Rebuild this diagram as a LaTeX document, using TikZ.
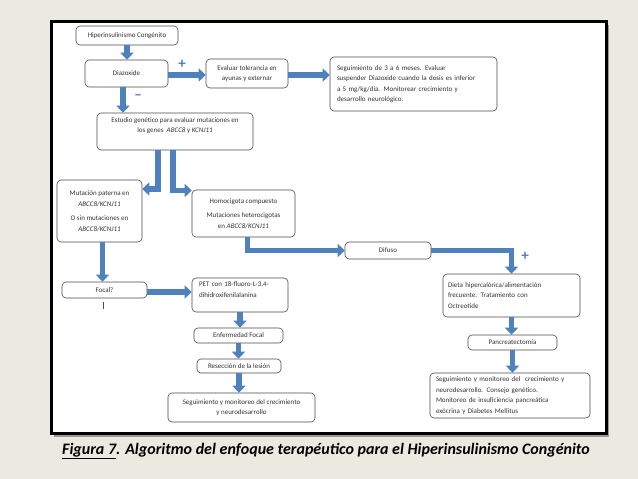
\documentclass[tikz,border=0pt]{standalone}
\usepackage{fontspec}
\setmainfont{Carlito}
\usetikzlibrary{arrows.meta}
\definecolor{slidebg}{RGB}{236,234,224}
\definecolor{arrowblue}{RGB}{79,129,189}
\tikzstyle{normal} = [rectangle, rounded corners=4pt, draw=black!70, line width=0.6pt, fill=white, text=black!80, inner sep=3pt, font=\fontsize{7}{10.5}\selectfont, align=center]
\tikzstyle{leftbox} = [normal, align=left]
\tikzstyle{arrow} = [draw=arrowblue, line width=5.5pt, -{Triangle[width=13pt,length=7pt]}]
\tikzstyle{sign} = [text=arrowblue, font=\bfseries\fontsize{15}{15}\selectfont]

\begin{document}
\begin{tikzpicture}[x=1pt, y=-1pt]

%% BACKGROUND AND FRAME

\fill [slidebg] (0,0) rectangle (638,479);
\useasboundingbox (0,0) rectangle (638,479);
\fill [black!40] (54,25) rectangle (609,437);
\draw [line width=3pt, fill=white] (51.5,21.5) rectangle (606,433);

%% NODES

\node (hi) [normal, minimum width=102pt, minimum height=19pt] at (127,35.5) {Hiperinsulinismo Congénito};
\node (diaz) [normal, minimum width=83pt, minimum height=27pt] at (126.5,73.5) {Diazoxide};
\node (eval) [normal, minimum width=82pt, minimum height=29pt] at (247,73.5) {Evaluar tolerancia en\\ ayunas y externar};
\node (seg1) [leftbox, inner xsep=7pt, text width=153pt, minimum height=54pt] at (413.5,84) {Seguimiento de 3 a 6 meses. Evaluar\\ suspender Diazoxide cuando la dosis es inferior\\ a 5 mg/kg/día. Monitorear crecimiento y\\ desarrollo neurológico.};
\node (gen) [normal, minimum width=156pt, minimum height=37pt] at (175,131.5) {Estudio genético para evaluar mutaciones en\\ los genes \ \textit{ABCC8} y \textit{KCNJ11}\\[2pt]};
\node (mut) [normal, minimum width=85pt, minimum height=62pt] at (99.5,211) {Mutación paterna en\\ \textit{ABCC8/KCNJ11}\\[4pt] O sin mutaciones en\\ \textit{ABCC8/KCNJ11}};
\node (homo) [normal, minimum width=103pt, minimum height=47pt] at (243.5,213.5) {Homocigota compuesto\\[4pt] Mutaciones heterocigotas\\ en \textit{ABCC8/KCNJ11}};
\node (dif) [normal, minimum width=86pt, minimum height=17pt] at (388,250.5) {Difuso};
\node (dieta) [leftbox, inner xsep=5pt, text width=127pt, minimum height=43pt] at (511.5,295.5) {Dieta hipercalórica/alimentación\\ frecuente. Tratamiento con\\ Octreotide};
\node (focal) [normal, minimum width=85pt, minimum height=16pt] at (104.5,290) {Focal?};
\node (pet) [leftbox, inner xsep=7pt, text width=82pt, minimum height=34pt] at (240,295) {PET con 18-fluoro-L-3,4-\\ dihidroxifenilalanina\\ \mbox{}};
\node (enf) [normal, minimum width=89pt, minimum height=15pt] at (238.5,335.5) {Enfermedad Focal};
\node (res) [normal, minimum width=84pt, minimum height=14pt] at (239,366) {Resección de la lesión};
\node (seg2) [normal, minimum width=147pt, minimum height=29pt] at (241.5,407.5) {Seguimiento y monitoreo del crecimiento\\ y neurodesarrollo};
\node (panc) [normal, minimum width=89pt, minimum height=15pt] at (512.5,342.5) {Pancreatectomía};
\node (seg3) [leftbox, inner xsep=6pt, text width=148pt, minimum height=45pt] at (510,395.5) {Seguimiento y monitoreo del \ crecimiento y\\ neurodesarrollo. Consejo genético.\\ Monitoreo de insuficiencia pancreática\\ exócrina y Diabetes Mellitus};

\node (plus1) [sign] at (182,64) {+};
\node (minus1) [sign] at (138,97) {–};
\node (plus2) [sign] at (525,256) {+};

\node (cap) [font=\bfseries\itshape\fontsize{16}{18}\selectfont, text=black] at (326,451) {\underline{Figura 7}. Algoritmo del enfoque terapéutico para el Hiperinsulinismo Congénito};

%% ARROWS

\draw [arrow] (hi.south) -- (hi.south |- diaz.north);
\draw [arrow] ([yshift=-1.5pt]diaz.east) -- ([yshift=-1.5pt]diaz.east -| eval.west);
\draw [arrow] ([yshift=-1.5pt]eval.east) -- ([yshift=-1.5pt]eval.east -| seg1.west);
\draw [arrow] ([xshift=-3.5pt]diaz.south) -- ([xshift=-3.5pt]diaz.south |- gen.north);
\draw [arrow] ([xshift=-17pt]gen.south) |- ([yshift=22pt]mut.east);
\draw [arrow] ([xshift=-2pt]gen.south) |- ([yshift=23pt]homo.west);
\draw [arrow] ([xshift=4pt]homo.south) |- (dif.west);
\draw [arrow] (dif.east) -| (dieta.north);
\draw [arrow] ([xshift=3pt]mut.south) -- ([xshift=3pt]mut.south |- focal.north);
\draw [arrow] ([yshift=-2pt]focal.east) -- ([yshift=-2pt]focal.east -| pet.west);
\draw [arrow] (pet.south) -- (pet.south |- enf.north);
\draw [arrow] (enf.south) -- (enf.south |- res.north);
\draw [arrow] (res.south) -- (res.south |- seg2.north);
\draw [arrow] (dieta.south) -- (dieta.south |- panc.north);
\draw [arrow] (panc.south) -- (panc.south |- seg3.north);
\draw [black!70, line width=0.6pt] ([xshift=-1.5pt,yshift=-4pt]focal.south) -- ++(0,7);

\end{tikzpicture}
\end{document}
